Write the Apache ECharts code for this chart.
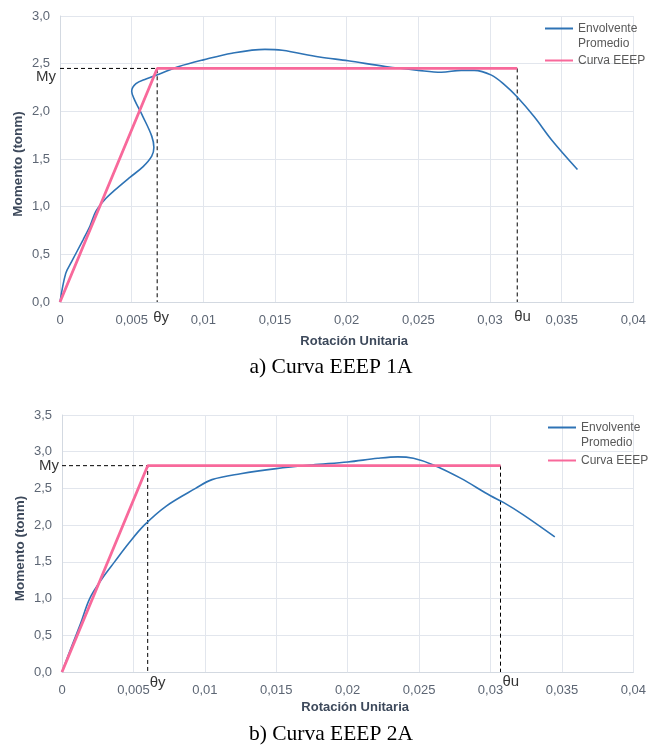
<!DOCTYPE html>
<html>
<head>
<meta charset="utf-8">
<script src="https://cdn.jsdelivr.net/npm/echarts@6/dist/echarts.min.js"></script>
<style>
  html, body { margin: 0; padding: 0; background: #fff; }
  #chart { width: 649px; height: 748px; }
</style>
</head>
<body>
<div id="chart"></div>
<script>
// Tick labels (comma decimal separator)
const xTickLabels = ['0', '0,005', '0,01', '0,015', '0,02', '0,025', '0,03', '0,035', '0,04'];
const yTickLabels1 = ['0,0', '0,5', '1,0', '1,5', '2,0', '2,5', '3,0'];
const yTickLabels2 = ['0,0', '0,5', '1,0', '1,5', '2,0', '2,5', '3,0', '3,5'];

// Specimen 1A: average envelope (rotation, moment)
const rot1A = [0, 0.0004, 0.0008, 0.0016, 0.0021, 0.0025, 0.0031, 0.0038, 0.0049, 0.0058,
  0.0064, 0.00655, 0.0064, 0.0058, 0.0052, 0.0050, 0.0053, 0.0060, 0.0069, 0.0083,
  0.0100, 0.0120, 0.0143, 0.0155, 0.0181, 0.0201, 0.0227, 0.0250, 0.0266, 0.0280,
  0.0289, 0.0301, 0.0310, 0.0319, 0.0331, 0.0343, 0.0361];
const mom1A = [0, 0.30, 0.42, 0.65, 0.80, 0.95, 1.07, 1.17, 1.31, 1.42,
  1.53, 1.62, 1.74, 1.94, 2.12, 2.21, 2.29, 2.34, 2.39, 2.47,
  2.54, 2.61, 2.65, 2.64, 2.57, 2.53, 2.47, 2.43, 2.41, 2.43,
  2.43, 2.38, 2.28, 2.15, 1.94, 1.70, 1.39];
// Specimen 1A: EEEP parameters
const my1A = 2.45;
const thetaY1A = 0.00678;
const thetaU1A = 0.0319;

// Specimen 2A: average envelope (rotation, moment)
const rot2A = [0, 0.0007, 0.0013, 0.00194, 0.0028, 0.00368, 0.0047, 0.00576, 0.0073, 0.00935,
  0.0105, 0.0125, 0.0150, 0.0175, 0.0200, 0.0221, 0.0235, 0.0246,
  0.0260, 0.0279, 0.0300, 0.0309, 0.0323, 0.0345];
const mom2A = [0, 0.36, 0.66, 1.00, 1.27, 1.50, 1.76, 2.00, 2.26, 2.50,
  2.62, 2.70, 2.77, 2.82, 2.86, 2.91, 2.93, 2.91,
  2.82, 2.64, 2.40, 2.31, 2.14, 1.84];
// Specimen 2A: EEEP parameters
const my2A = 2.81;
const thetaY2A = 0.0060;
const thetaU2A = 0.0307;

const ENV_NAME = 'Envolvente\nPromedio';
const EEEP_NAME = 'Curva EEEP';
const FONT = 'Liberation Sans';
const BLUE = '#2E73B5';
const PINK = '#F8699B';
const TICK_COLOR = '#5D6674';
const NAME_COLOR = '#3D495B';
const GRID_COLOR = '#E2E6ED';
const AXIS_COLOR = '#D3D9E1';

const zip = (xs, ys) => xs.map((x, i) => [x, ys[i]]);

function xAxisFor(gridIndex, nameGap) {
  return {
    type: 'value', gridIndex, min: 0, max: 0.04, interval: 0.005,
    name: 'Rotación Unitaria', nameLocation: 'middle', nameGap,
    nameTextStyle: { fontFamily: FONT, fontSize: 13, fontWeight: 'bold', color: NAME_COLOR, padding: [0, 0, 0, 15] },
    axisLine: { show: true, lineStyle: { color: AXIS_COLOR, width: 1 } },
    axisTick: { show: false },
    axisLabel: {
      fontFamily: FONT, fontSize: 13, color: TICK_COLOR, margin: 12,
      formatter: v => xTickLabels[Math.round(v / 0.005)]
    },
    splitLine: { show: true, lineStyle: { color: GRID_COLOR, width: 1 } }
  };
}

function yAxisFor(gridIndex, maxVal, labels) {
  return {
    type: 'value', gridIndex, min: 0, max: maxVal, interval: 0.5,
    name: 'Momento (tonm)', nameLocation: 'middle', nameGap: 35, nameRotate: 90,
    nameMoveOverlap: false,
    nameTextStyle: { fontFamily: FONT, fontSize: 13.5, fontWeight: 'bold', color: NAME_COLOR, padding: [0, 10, 0, 0] },
    axisLine: { show: true, lineStyle: { color: AXIS_COLOR, width: 1 } },
    axisTick: { show: false },
    axisLabel: {
      fontFamily: FONT, fontSize: 13, color: TICK_COLOR, margin: 10,
      formatter: v => labels[Math.round(v / 0.5)]
    },
    splitLine: { show: true, lineStyle: { color: GRID_COLOR, width: 1 } }
  };
}

const markLabel = (offset, align) => ({
  show: true, position: 'inside', align, verticalAlign: 'middle', offset,
  fontFamily: FONT, fontSize: 15, color: '#000',
  formatter: p => p.name
});

function seriesFor(idx, rot, mom, my, thY, thU, myOff, thYOff, thUOff) {
  return [
    {
      name: ENV_NAME, type: 'line', xAxisIndex: idx, yAxisIndex: idx,
      data: zip(rot, mom), smooth: 0.35, symbol: 'none',
      lineStyle: { color: BLUE, width: 1.6 }, itemStyle: { color: BLUE }, z: 3
    },
    {
      name: 'guia-y', type: 'line', xAxisIndex: idx, yAxisIndex: idx,
      data: [[0, my], [thY, my], [thY, 0]], symbol: 'none', silent: true,
      lineStyle: { color: '#000', width: 1, type: [4, 3] }, z: 2
    },
    {
      name: 'guia-u', type: 'line', xAxisIndex: idx, yAxisIndex: idx,
      data: [[thU, my], [thU, 0]], symbol: 'none', silent: true,
      lineStyle: { color: '#000', width: 1, type: [4, 3] }, z: 2
    },
    {
      name: EEEP_NAME, type: 'line', xAxisIndex: idx, yAxisIndex: idx,
      data: [[0, 0], [thY, my], [thU, my]], symbol: 'none',
      lineStyle: { color: PINK, width: 2.8 }, itemStyle: { color: PINK }, z: 4
    },
    {
      name: 'rotulos', type: 'scatter', xAxisIndex: idx, yAxisIndex: idx,
      symbolSize: 1, itemStyle: { color: 'rgba(0,0,0,0)' }, silent: true, z: 5,
      data: [
        { name: 'My', value: [0, my], label: markLabel(myOff, 'right') },
        { name: 'θy', value: [thY, 0], label: markLabel(thYOff, 'left') },
        { name: 'θu', value: [thU, 0], label: markLabel(thUOff, 'left') }
      ]
    }
  ];
}

// A blank first line keeps the legend line level with "Envolvente"
function legendFor(left, top, gap) {
  return {
    orient: 'vertical', left, top, padding: 0, itemGap: gap,
    itemWidth: 28, itemHeight: 14,
    itemStyle: { opacity: 0 },
    textStyle: { fontFamily: FONT, fontSize: 12, color: '#595959', lineHeight: 15 },
    formatter: name => (name === ENV_NAME ? ' \n' + name : name),
    data: [ENV_NAME, EEEP_NAME]
  };
}

const chart = echarts.init(document.getElementById('chart'), null, { renderer: 'canvas' });
chart.setOption({
  animation: false,
  backgroundColor: '#fff',
  title: [
    { text: 'a) Curva EEEP 1A', left: 331, top: 356, textAlign: 'center', padding: 0,
      textStyle: { fontFamily: 'Liberation Serif', fontSize: 21.5, fontWeight: 'normal', color: '#000' } },
    { text: 'b) Curva EEEP 2A', left: 331, top: 723, textAlign: 'center', padding: 0,
      textStyle: { fontFamily: 'Liberation Serif', fontSize: 21.5, fontWeight: 'normal', color: '#000' } }
  ],
  grid: [
    { left: 60, top: 16, width: 577, height: 286 },
    { left: 62, top: 415, width: 575, height: 257 }
  ],
  legend: [legendFor(544, 6, 2), legendFor(547, 405, 3)],
  xAxis: [xAxisFor(0, 33), xAxisFor(1, 29)],
  yAxis: [yAxisFor(0, 3, yTickLabels1), yAxisFor(1, 3.5, yTickLabels2)],
  series: [
    ...seriesFor(0, rot1A, mom1A, my1A, thetaY1A, thetaU1A, [-4, 8], [-4, 15.5], [-3, 14.5]),
    ...seriesFor(1, rot2A, mom2A, my2A, thetaY2A, thetaU2A, [-3, 0], [2, 10.5], [2, 9.5])
  ]
});
</script>
</body>
</html>
